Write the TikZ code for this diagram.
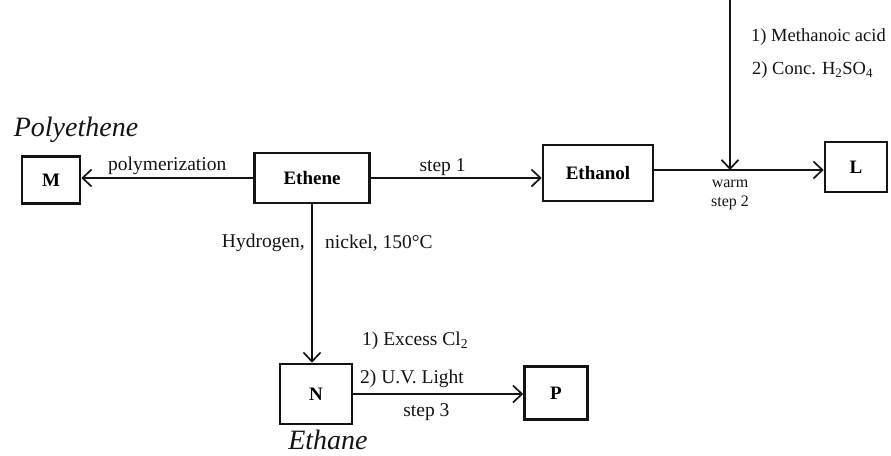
\documentclass[tikz,border=0pt]{standalone}
\usepackage{fontspec}
\usepackage{tikz}
\setmainfont{Liberation Serif}
\usetikzlibrary{arrows.meta}
\usetikzlibrary{positioning}
\tikzset{box/.style = {draw=ink, line width=2.6pt, font=\bfseries\fontsize{19}{21}\selectfont},
         react/.style = {draw=ink, line width=1.7pt,
                         -{Straight Barb[length=9pt,width=17pt,line width=1.7pt]}},
         cond/.style = {text=ink, font=\fontsize{19.5}{21}\selectfont, inner sep=0pt},
         hand/.style = {text=ink, font=\itshape\fontsize{28}{30}\selectfont}}
\definecolor{ink}{rgb}{0.08, 0.08, 0.08}

\begin{document}
\begin{tikzpicture}[x=1pt, y=-1pt]
      \useasboundingbox (0, 0) rectangle (891, 455);

      % compounds
      \node [box, minimum width=58pt, minimum height=47pt] (M) at (51, 180) {M};
      \node [box, minimum width=115pt, minimum height=50pt] (Ethene) at (312, 178) {Ethene};
      \node [box, minimum width=110pt, minimum height=56pt] (Ethanol) at (598, 173) {Ethanol};
      \node [box, minimum width=62pt, minimum height=50pt] (L) at (856, 167) {L};
      \node [box, minimum width=72pt, minimum height=60pt] (N) at (316, 394) {N};
      \node [box, minimum width=63pt, minimum height=53pt] (P) at (556, 393) {P};

      \coordinate (acid) at (730, 0);
      \coordinate (join) at (730, 170);

      % reactions
      \draw [react] (Ethene.west) -- (Ethene.west -| M.east)
            node [cond, midway, above=2pt] {polymerization};
      \draw [react] (Ethene.east) -- (Ethene.east -| Ethanol.west)
            node [cond, pos=0.42, above=2pt] {step 1};
      \draw [react] (Ethanol.east |- join) -- (join -| L.west);
      \draw [react] (acid) -- (join);
      \draw [react] (Ethene.south) -- (Ethene.south |- N.north);
      \draw [react] (N.east) -- (N.east -| P.west)
            node [cond, pos=0.43, below=9pt] {step 3};

      % conditions
      \node [cond, align=center, below=10pt of join, font=\fontsize{16}{19}\selectfont] (warm) {warm\\step 2};
      \node [cond, anchor=west, font=\fontsize{18.5}{20}\selectfont] (acid1) at (751, 37) {1) Methanoic acid};
      \node [cond, anchor=west, font=\fontsize{18.5}{20}\selectfont] (acid2) at (752, 70) {2) Conc. H\textsubscript{2}SO\textsubscript{4}};
      \node [cond, anchor=east] (hyd) at (305, 243) {Hydrogen,};
      \node [cond, anchor=west] (nick) at (325, 243) {nickel, 150\textdegree C};
      \node [cond, anchor=west] (cl) at (362, 341) {1) Excess Cl\textsubscript{2}};
      \node [cond, anchor=west] (uv) at (360, 379) {2) U.V. Light};

      % handwritten notes
      \node [hand] (polyname) at (76, 130) {Polyethene};
      \node [hand] (ethname) at (328, 440) {Ethane};
    \end{tikzpicture}
\end{document}
